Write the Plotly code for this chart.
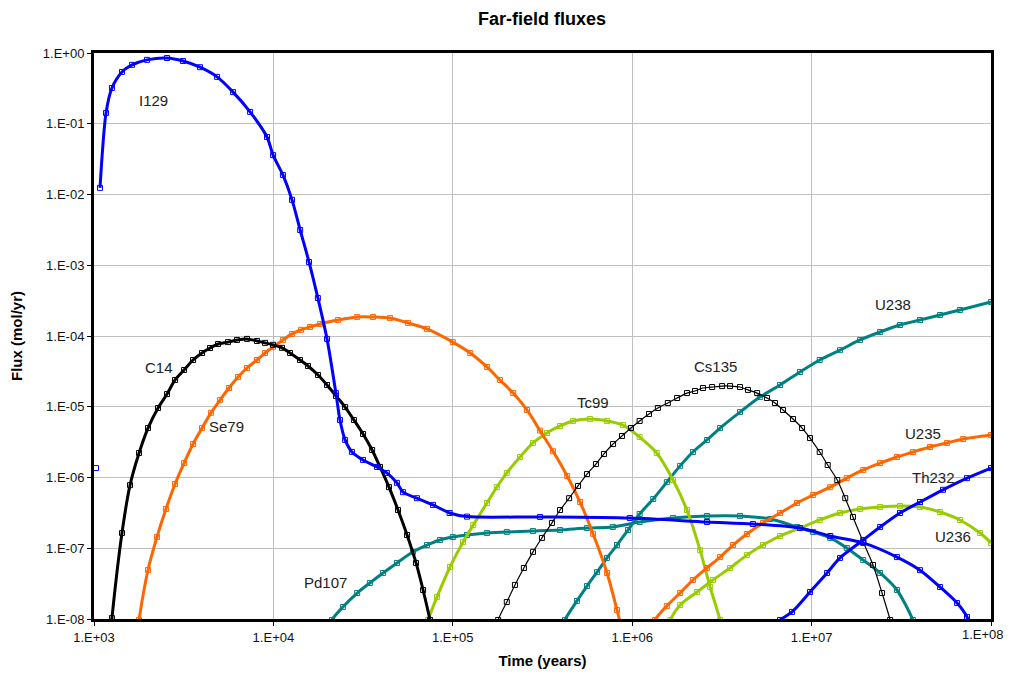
import plotly.graph_objects as go

# ---------------- data (time in years, flux in mol/yr) ----------------
I129_T = [1080, 1167, 1259, 1432, 1629, 1974, 2553, 3133, 3899, 4853, 5960, 7413, 9210,
          9960, 1.13e4, 1.27e4, 1.41e4, 1.58e4, 1.77e4, 1.99e4, 2.23e4, 2.35e4, 2.51e4,
          2.74e4, 3.16e4, 3.78e4, 4.29e4, 4.88e4, 5.28e4, 6.31e4, 7.76e4, 9.6e4, 1.2e5,
          3.06e5, 9.7e5, 2.61e6, 4.71e6, 8.61e6, 1.27e7, 1.94e7, 2.99e7, 4.02e7, 5.2e7,
          6.47e7, 7.35e7, 7.8e7]
I129_F = [1.24e-2, 0.142, 0.32, 0.54, 0.68, 0.80, 0.85, 0.77, 0.63, 0.46, 0.28, 0.147, 0.065,
          0.036, 0.0189, 8.4e-3, 3.15e-3, 1.11e-3, 3.44e-4, 9.1e-5, 1.56e-5, 6.5e-6, 3.4e-6,
          2.3e-6, 1.77e-6, 1.41e-6, 1.16e-6, 8.4e-7, 6.2e-7, 5.1e-7, 4.1e-7, 3.15e-7, 2.8e-7,
          2.77e-7, 2.67e-7, 2.35e-7, 2.2e-7, 1.93e-7, 1.49e-7, 1.19e-7, 7.5e-8, 4.9e-8, 2.83e-8,
          1.68e-8, 1.07e-8, 7e-9]
I129_STRAY_T = [1026]
I129_STRAY_F = [1.36e-6]

C14_T = [1227, 1259, 1432, 1588, 1783, 2000, 2275, 2553, 2831, 3177, 3566, 4000, 4433, 4914,
         5585, 6270, 7125, 8100, 8985, 9950, 1.117e4, 1.238e4, 1.407e4, 1.559e4, 1.774e4,
         1.99e4, 2.234e4, 2.51e4, 2.81e4, 3.16e4, 3.55e4, 3.93e4, 4.41e4, 4.95e4, 5.56e4,
         6.24e4, 6.83e4, 7.47e4, 7.8e4]
C14_F = [5e-9, 1.03e-8, 1.64e-7, 7.8e-7, 2.22e-6, 5.0e-6, 9.6e-6, 1.51e-5, 2.39e-5, 3.31e-5,
         4.58e-5, 5.75e-5, 6.76e-5, 7.7e-5, 8.2e-5, 8.8e-5, 9.1e-5, 8.5e-5, 8.0e-5, 7.5e-5,
         6.8e-5, 5.75e-5, 4.58e-5, 3.77e-5, 2.81e-5, 2.03e-5, 1.42e-5, 9.9e-6, 6.5e-6, 4.12e-6,
         2.45e-6, 1.41e-6, 7.3e-7, 3.47e-7, 1.54e-7, 6.2e-8, 2.57e-8, 9.7e-9, 6e-9]

SE79_T = [1738, 1782, 2000, 2244, 2518, 2830, 3177, 3566, 4000, 4487, 5036, 5655, 6350, 7125,
          8100, 8985, 9950, 1.13e4, 1.27e4, 1.425e4, 1.6e4, 1.82e4, 2.29e4, 2.93e4, 3.59e4,
          4.47e4, 5.63e4, 7.18e4, 1.0e5, 1.25e5, 1.55e5, 1.83e5, 2.17e5, 2.59e5, 3.06e5,
          3.62e5, 4.34e5, 5.12e5, 6.05e5, 7.24e5, 8.23e5, 8.77e5]
SE79_F = [5.9e-9, 9.7e-9, 4.93e-8, 1.44e-7, 3.59e-7, 8.1e-7, 1.6e-6, 2.97e-6, 5.0e-6, 8.2e-6,
          1.24e-5, 1.84e-5, 2.63e-5, 3.53e-5, 4.58e-5, 5.75e-5, 7.0e-5, 8.8e-5, 1.07e-4, 1.22e-4,
          1.34e-4, 1.48e-4, 1.68e-4, 1.86e-4, 1.86e-4, 1.8e-4, 1.53e-4, 1.26e-4, 8.2e-5, 5.75e-5,
          3.65e-5, 2.39e-5, 1.56e-5, 9.0e-6, 4.6e-6, 2.35e-6, 1.05e-6, 4.5e-7, 1.6e-7, 4.47e-8,
          1.34e-8, 7e-9]

PD107_T = [2.04e4, 2.12e4, 2.44e4, 2.93e4, 3.45e4, 4.08e4, 4.89e4, 6.0e4, 7.18e4, 8.48e4, 1.0e5,
           1.2e5, 1.55e5, 2.0e5, 2.8e5, 3.96e5, 5.6e5, 7.8e5, 1.1e6, 1.69e6, 2.61e6, 3.99e6,
           5.87e6, 8.3e6, 1.02e7, 1.27e7, 1.57e7, 1.94e7, 2.41e7, 2.99e7, 3.67e7, 3.87e7]
PD107_F = [7e-9, 9.7e-9, 1.48e-8, 2.33e-8, 3.23e-8, 4.47e-8, 6.2e-8, 8.9e-8, 1.11e-7, 1.31e-7,
           1.44e-7, 1.54e-7, 1.64e-7, 1.7e-7, 1.75e-7, 1.81e-7, 1.93e-7, 2.0e-7, 2.35e-7, 2.68e-7,
           2.86e-7, 2.86e-7, 2.59e-7, 2.0e-7, 1.7e-7, 1.4e-7, 1.01e-7, 6.8e-8, 4.47e-8, 2.57e-8,
           9.7e-9, 6.5e-9]

TC99_T = [7.0e4, 7.28e4, 8.17e4, 9.65e4, 1.14e5, 1.3e5, 1.55e5, 1.76e5, 2.0e5, 2.37e5, 2.8e5,
          3.35e5, 3.96e5, 4.68e5, 5.82e5, 7.24e5, 8.89e5, 1.1e6, 1.37e6, 1.69e6, 2.02e6, 2.39e6,
          2.72e6, 3.09e6, 3.21e6]
TC99_F = [6.5e-9, 9.7e-9, 2.05e-8, 5.43e-8, 1.22e-7, 2.13e-7, 4.36e-7, 7.3e-7, 1.16e-6, 1.95e-6,
          3.08e-6, 4.26e-6, 5.35e-6, 6.3e-6, 6.7e-6, 6.3e-6, 5.5e-6, 3.73e-6, 2.22e-6, 9.2e-7,
          3.47e-7, 9.4e-8, 2.83e-8, 9.7e-9, 6.5e-9]

CS135_T = [1.74e5, 1.79e5, 2.0e5, 2.22e5, 2.49e5, 2.8e5, 3.14e5, 3.57e5, 3.96e5, 4.45e5, 4.99e5,
           5.6e5, 6.28e5, 6.96e5, 7.82e5, 8.77e5, 9.84e5, 1.1e6, 1.24e6, 1.39e6, 1.58e6, 1.78e6,
           2.02e6, 2.24e6, 2.48e6, 2.79e6, 3.17e6, 3.51e6, 3.99e6, 4.42e6, 4.97e6, 5.64e6,
           6.25e6, 6.93e6, 7.88e6, 8.85e6, 9.8e6, 1.11e7, 1.23e7, 1.39e7, 1.54e7, 1.7e7, 1.94e7,
           2.2e7, 2.47e7, 2.74e7, 2.84e7]
CS135_F = [6.5e-9, 9.7e-9, 1.74e-8, 3.03e-8, 5.26e-8, 8.9e-8, 1.4e-7, 2.28e-7, 3.47e-7, 5.1e-7,
           7.6e-7, 1.12e-6, 1.55e-6, 2.15e-6, 2.97e-6, 3.86e-6, 5.0e-6, 6.3e-6, 7.9e-6, 9.6e-6,
           1.13e-5, 1.33e-5, 1.56e-5, 1.67e-5, 1.84e-5, 1.9e-5, 1.96e-5, 1.96e-5, 1.9e-5, 1.73e-5,
           1.56e-5, 1.33e-5, 1.13e-5, 9.0e-6, 6.7e-6, 5.0e-6, 3.61e-6, 2.29e-6, 1.5e-6, 9.2e-7,
           5.1e-7, 2.77e-7, 1.22e-7, 5.8e-8, 2.33e-8, 9.7e-9, 6.5e-9]

U238_T = [4.06e5, 4.22e5, 4.92e5, 5.6e5, 6.37e5, 7.24e5, 8.23e5, 9.48e5, 1.1e6, 1.31e6, 1.56e6,
          1.85e6, 2.18e6, 2.61e6, 3.09e6, 3.99e6, 5.15e6, 6.67e6, 8.61e6, 1.11e7, 1.44e7,
          1.86e7, 2.41e7, 3.11e7, 4.02e7, 5.2e7, 6.71e7, 1.0e8]
U238_F = [6.5e-9, 9.7e-9, 1.8e-8, 2.92e-8, 4.6e-8, 7.3e-8, 1.11e-7, 1.81e-7, 3.05e-7, 4.97e-7,
          8.6e-7, 1.46e-6, 2.29e-6, 3.39e-6, 5.0e-6, 8.4e-6, 1.37e-5, 2.03e-5, 3.1e-5, 4.58e-5,
          6.3e-5, 8.8e-5, 1.14e-4, 1.43e-4, 1.68e-4, 1.98e-4, 2.33e-4, 3.03e-4]

U235_T = [1.29e6, 1.34e6, 1.56e6, 1.85e6, 2.18e6, 2.61e6, 3.09e6, 3.65e6, 4.36e6, 5.36e6, 6.67e6,
          8.29e6, 1.02e7, 1.27e7, 1.57e7, 1.94e7, 2.41e7, 2.99e7, 3.67e7, 4.57e7, 5.69e7,
          6.99e7, 1.0e8]
U235_F = [6.5e-9, 9.7e-9, 1.53e-8, 2.33e-8, 3.56e-8, 5.26e-8, 7.5e-8, 1.11e-7, 1.59e-7, 2.28e-7,
          3.15e-7, 4.36e-7, 5.66e-7, 7.3e-7, 9.8e-7, 1.28e-6, 1.6e-6, 1.95e-6, 2.29e-6, 2.7e-6,
          3.08e-6, 3.5e-6, 3.99e-6]

TH232_T = [5.86e6, 6.67e6, 7.78e6, 9.8e6, 1.22e7, 1.44e7, 1.94e7, 2.41e7, 3.11e7, 4.02e7, 5.4e7,
           7.35e7, 1.0e8]
TH232_F = [7e-9, 9.7e-9, 1.26e-8, 2.41e-8, 4.47e-8, 7.3e-8, 1.31e-7, 2.0e-7, 3.15e-7, 4.5e-7,
           6.7e-7, 9.8e-7, 1.36e-6]

U236_T = [1.56e6, 1.63e6, 1.85e6, 2.3e6, 2.82e6, 3.51e6, 4.36e6, 5.36e6, 6.67e6, 8.61e6, 1.11e7,
          1.44e7, 1.86e7, 2.41e7, 3.11e7, 4.02e7, 5.2e7, 6.71e7, 8.69e7, 1.0e8]
U236_F = [6.5e-9, 9.7e-9, 1.58e-8, 2.41e-8, 3.56e-8, 5.26e-8, 8.0e-8, 1.11e-7, 1.49e-7, 1.93e-7,
          2.51e-7, 3.15e-7, 3.59e-7, 3.83e-7, 3.96e-7, 3.83e-7, 3.25e-7, 2.51e-7, 1.64e-7, 1.19e-7]

X_TICK_VALS = [1e3, 1e4, 1e5, 1e6, 1e7, 1e8]
X_TICK_TEXT = ["1.E+03", "1.E+04", "1.E+05", "1.E+06", "1.E+07", "1.E+08"]
Y_TICK_VALS = [1e0, 1e-1, 1e-2, 1e-3, 1e-4, 1e-5, 1e-6, 1e-7, 1e-8]
Y_TICK_TEXT = ["1.E+00", "1.E-01", "1.E-02", "1.E-03", "1.E-04", "1.E-05", "1.E-06",
               "1.E-07", "1.E-08"]

# ---------------- styling ----------------
BLUE = "#0000FF"
BLACK = "#000000"
ORANGE = "#FF6600"
TEAL = "#008080"
LIME = "#99CC00"
FONT = "Liberation Sans, Arial"
TICK_FONT = dict(family=FONT, size=13, color="#111111")

series = [
    ("Pd107", PD107_T, PD107_F, TEAL, 3),
    ("U238", U238_T, U238_F, TEAL, 3),
    ("Tc99", TC99_T, TC99_F, LIME, 3),
    ("U236", U236_T, U236_F, LIME, 3),
    ("Se79", SE79_T, SE79_F, ORANGE, 3),
    ("U235", U235_T, U235_F, ORANGE, 3),
    ("C14", C14_T, C14_F, BLACK, 3),
    ("Cs135", CS135_T, CS135_F, BLACK, 1.2),
    ("Th232", TH232_T, TH232_F, BLUE, 3),
    ("I129", I129_T, I129_F, BLUE, 3),
]

labels = [
    ("I129", 3.334, -0.678),
    ("C14", 3.362, -4.452),
    ("Se79", 3.741, -5.286),
    ("Pd107", 4.288, -7.477),
    ("Tc99", 5.781, -4.933),
    ("Cs135", 6.462, -4.438),
    ("U238", 7.454, -3.548),
    ("U235", 7.621, -5.371),
    ("Th232", 7.677, -5.993),
    ("U236", 7.788, -6.827),
]

fig = go.Figure()
for name, t, f, col, w in series:
    fig.add_trace(go.Scatter(x=t, y=f, mode="lines", name=name, showlegend=False,
                             line=dict(color=col, width=w, shape="spline", smoothing=0.8)))
    fig.add_trace(go.Scatter(x=t, y=f, mode="markers", name=name + " pts", showlegend=False,
                             marker=dict(symbol="square-open", size=5, color=col,
                                         line=dict(width=1, color=col))))
fig.add_trace(go.Scatter(x=I129_STRAY_T, y=I129_STRAY_F, mode="markers", showlegend=False,
                         marker=dict(symbol="square-open", size=5, color=BLUE,
                                     line=dict(width=1, color=BLUE))))

for txt, lx, ly in labels:
    fig.add_annotation(x=lx, y=ly, xref="x", yref="y", text=txt, showarrow=False,
                       font=dict(family=FONT, size=15, color="#222222"))

# last x tick label drawn as a right-aligned text so it is not cut at the window edge
fig.add_annotation(x=1, y=0, xref="paper", yref="paper", xanchor="right", yanchor="top",
                   xshift=15, yshift=-6, text=X_TICK_TEXT[-1], showarrow=False,
                   font=TICK_FONT)

axis_common = dict(
    showgrid=True, gridcolor="#C0C0C0", gridwidth=1,
    showline=True, linecolor="black", linewidth=3, mirror=True,
    ticks="outside", ticklen=4, tickcolor="black", tickwidth=1,
    zeroline=False, automargin=False,
    tickfont=TICK_FONT,
)

# the page body has an 8px default margin; keep the figure inside the window (no scrollbars)
FIG_W, FIG_H = 1007, 661

fig.update_layout(
    width=FIG_W, height=FIG_H,
    margin=dict(l=86, r=24, t=45, b=50),
    paper_bgcolor="white", plot_bgcolor="white",
    title=dict(text="<b>Far-field fluxes</b>", x=(542 - 8) / FIG_W, xref="container",
               xanchor="center", y=1 - 11 / FIG_H,
               yanchor="middle", font=dict(family=FONT, size=18, color="black")),
    xaxis=dict(type="log", range=[3, 8], tickvals=X_TICK_VALS,
               ticktext=X_TICK_TEXT[:-1] + [""],
               title=dict(text="<b>Time (years)</b>", standoff=12,
                          font=dict(family=FONT, size=15, color="black")),
               **axis_common),
    yaxis=dict(type="log", range=[-8, 0], tickvals=Y_TICK_VALS, ticktext=Y_TICK_TEXT,
               title=dict(text="<b>Flux (mol/yr)</b>", standoff=18,
                          font=dict(family=FONT, size=15, color="black")),
               **axis_common),
)

fig.write_html("out.html")
